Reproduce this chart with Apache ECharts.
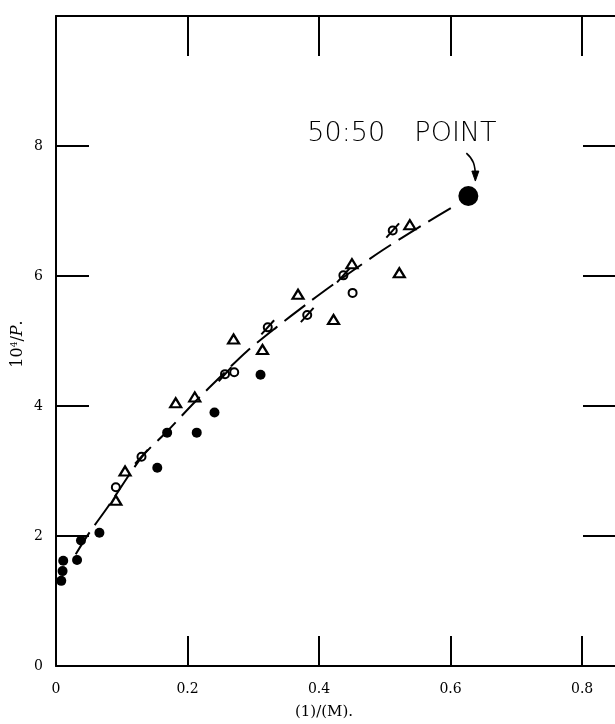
<!DOCTYPE html>
<html>
<head>
<meta charset="utf-8">
<script src="https://cdn.jsdelivr.net/npm/echarts@6/dist/echarts.min.js"></script>
<style>
html,body{margin:0;padding:0;background:#fff;}
#c{width:615px;height:724px;}
</style>
</head>
<body>
<div id="c"></div>
<script>
// ---- data ----
const xTicks = [0, 0.2, 0.4, 0.6, 0.8];
const yTicks = [0, 2, 4, 6, 8];

const curveX = [0.030, 0.050, 0.079, 0.131, 0.170, 0.210, 0.255, 0.290, 0.335, 0.380, 0.412, 0.444, 0.497, 0.555, 0.611];
const curveY = [1.72, 2.04, 2.45, 3.22, 3.62, 4.05, 4.50, 4.84, 5.21, 5.56, 5.80, 6.03, 6.40, 6.77, 7.11];

const dotsX = [0.011, 0.010, 0.008, 0.032, 0.038, 0.066, 0.154, 0.169, 0.214, 0.241, 0.311];
const dotsY = [1.62, 1.46, 1.31, 1.63, 1.93, 2.05, 3.05, 3.59, 3.59, 3.90, 4.48];

const triX = [0.091, 0.105, 0.182, 0.211, 0.270, 0.314, 0.368, 0.422, 0.450, 0.522, 0.538];
const triY = [2.55, 3.00, 4.05, 4.14, 5.03, 4.87, 5.72, 5.33, 6.19, 6.05, 6.79];

const openX = [0.091, 0.271, 0.451];
const openY = [2.75, 4.52, 5.74];

const slashX = [0.130, 0.257, 0.322, 0.382, 0.437, 0.512];
const slashY = [3.22, 4.49, 5.21, 5.40, 6.01, 6.70];

const bigX = [0.627];
const bigY = [7.23];

const annotationLeft = '50:50';
const annotationRight = 'POINT';
const xTitle = '(1)/(M).';

// ---- chart ----
const zip = (a, b) => a.map((v, i) => [v, b[i]]);
const chart = echarts.init(document.getElementById('c'), null, {renderer: 'canvas'});
const serif = '"DejaVu Serif", serif';
const black = '#000';

const option = {
  animation: false,
  backgroundColor: '#fff',
  grid: {left: 56, right: -2, top: 16, bottom: 58, containLabel: false},
  xAxis: [
    {
      type: 'value', min: 0, max: 0.85, interval: 0.2, position: 'bottom',
      axisLine: {show: true, onZero: false, lineStyle: {color: black, width: 2}},
      axisTick: {show: true, inside: true, length: 30, customValues: xTicks, lineStyle: {color: black, width: 2}},
      axisLabel: {show: true, margin: 16, color: black, fontFamily: serif, fontSize: 14,
        customValues: xTicks, showMaxLabel: true,
        formatter: v => (v === 0 ? '0' : v.toFixed(1))},
      splitLine: {show: false}
    },
    {
      type: 'value', min: 0, max: 0.85, interval: 0.2, position: 'top',
      axisLine: {show: true, onZero: false, lineStyle: {color: black, width: 2}},
      axisTick: {show: true, inside: true, length: 40, customValues: xTicks, lineStyle: {color: black, width: 2}},
      axisLabel: {show: false},
      splitLine: {show: false}
    }
  ],
  yAxis: [
    {
      type: 'value', min: 0, max: 10, interval: 2, position: 'left',
      axisLine: {show: true, onZero: false, lineStyle: {color: black, width: 2}},
      axisTick: {show: true, inside: true, length: 33, lineStyle: {color: black, width: 2}},
      axisLabel: {show: true, margin: 13, color: black, fontFamily: serif, fontSize: 14,
        formatter: v => (yTicks.indexOf(v) >= 0 ? String(v) : '')},
      splitLine: {show: false}
    },
    {
      type: 'value', min: 0, max: 10, interval: 2, position: 'right',
      axisLine: {show: false, onZero: false},
      axisTick: {show: true, inside: true, length: 32, lineStyle: {color: black, width: 2}},
      axisLabel: {show: false},
      splitLine: {show: false}
    }
  ],
  series: [
    {
      name: 'curve', type: 'line', data: zip(curveX, curveY), showSymbol: false, smooth: 0.3,
      lineStyle: {color: black, width: 2, type: [26, 9]}, z: 2, silent: true
    },
    {
      name: 'filled', type: 'scatter', data: zip(dotsX, dotsY), symbol: 'circle', symbolSize: 10,
      itemStyle: {color: black, opacity: 1}, z: 3
    },
    {
      name: 'triangles', type: 'scatter', data: zip(triX, triY), symbol: 'triangle', symbolSize: [11, 9],
      itemStyle: {color: 'transparent', borderColor: black, borderWidth: 2.2, opacity: 1}, z: 3
    },
    {
      name: 'open', type: 'scatter', data: zip(openX, openY), symbol: 'circle', symbolSize: 8,
      itemStyle: {color: 'transparent', borderColor: black, borderWidth: 2, opacity: 1}, z: 3
    },
    {
      name: 'slashed', type: 'scatter', data: zip(slashX, slashY), symbol: 'circle', symbolSize: 8,
      itemStyle: {color: 'transparent', borderColor: black, borderWidth: 2, opacity: 1}, z: 3
    },
    {
      name: 'slash', type: 'scatter', data: zip(slashX, slashY), symbol: 'rect', symbolSize: [19, 2],
      symbolRotate: 48, itemStyle: {color: black, opacity: 1}, z: 3, silent: true
    },
    {
      name: 'big', type: 'scatter', data: zip(bigX, bigY), symbol: 'circle', symbolSize: 20,
      itemStyle: {color: black, opacity: 1}, z: 4
    }
  ]
};
chart.setOption(option);

const p = chart.convertToPixel({gridIndex: 0}, [bigX[0], bigY[0]]);
const gx = p[0], gy = p[1];
chart.setOption({
  graphic: [
    {
      type: 'text', x: gx - 161, y: gy - 62,
      style: {text: annotationLeft, fill: black, font: '300 27px "DejaVu Sans", sans-serif',
        textAlign: 'left', textVerticalAlign: 'middle'}
    },
    {
      type: 'text', x: gx - 54, y: gy - 62,
      style: {text: annotationRight, fill: black, font: '300 27px "DejaVu Sans", sans-serif',
        textAlign: 'left', textVerticalAlign: 'middle'}
    },
    {
      type: 'bezierCurve',
      shape: {x1: gx - 2, y1: gy - 43, cpx1: gx + 5, cpy1: gy - 37, cpx2: gx + 7, cpy2: gy - 31, x2: gx + 7, y2: gy - 19},
      style: {stroke: black, lineWidth: 1.6, fill: null}
    },
    {
      type: 'polygon',
      shape: {points: [[gx + 3.5, gy - 25], [gx + 7, gy - 15], [gx + 10.5, gy - 25]]},
      style: {fill: black, stroke: black, lineWidth: 1}
    },
    {
      type: 'text', x: 18, y: 344, rotation: Math.PI / 2,
      style: {
        text: '10{s|4}/{i|P}.', fill: black, font: '16px "DejaVu Serif", serif',
        textAlign: 'center', textVerticalAlign: 'middle',
        rich: {
          s: {fontSize: 9, fontFamily: '"DejaVu Serif", serif', verticalAlign: 'top', padding: [0, 0, 6, 0]},
          i: {fontSize: 16, fontFamily: '"DejaVu Serif", serif', fontStyle: 'italic'}
        }
      }
    },
    {
      type: 'text', x: 324, y: 712,
      style: {text: xTitle, fill: black, font: '15px "DejaVu Serif", serif',
        textAlign: 'center', textVerticalAlign: 'middle'}
    }
  ]
});
</script>
</body>
</html>
